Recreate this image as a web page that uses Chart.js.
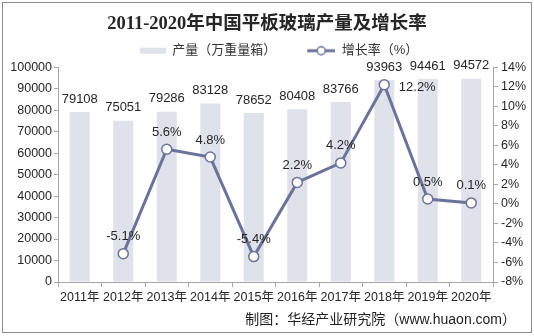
<!DOCTYPE html>
<html>
<head>
<meta charset="utf-8">
<script src="https://cdn.jsdelivr.net/npm/chart.js@4.4.0/dist/chart.umd.min.js"></script>
<style>
  html, body { margin: 0; padding: 0; background: #fff; }
  #wrap { width: 534px; height: 336px; position: relative; }
</style>
</head>
<body>
<div id="wrap"><canvas id="myChart" width="534" height="336"></canvas></div>
<script>
// data
const years = ["2011年", "2012年", "2013年", "2014年", "2015年", "2016年", "2017年", "2018年", "2019年", "2020年"];
const output = [79108, 75051, 79286, 83128, 78652, 80408, 83766, 93963, 94461, 94572];
const growth = [null, -5.1, 5.6, 4.8, -5.4, 2.2, 4.2, 12.2, 0.5, 0.1];

const barColor = "#dfe2ea";
const lineColor = "#6b7399";
const cjk = "'Liberation Sans', 'Noto Sans CJK SC', sans-serif";

// legend icons
function legendIcon(type) {
  const c = document.createElement("canvas");
  c.width = 50;
  c.height = 12;
  const g = c.getContext("2d");
  if (type === "bar") {
    g.fillStyle = barColor;
    g.fillRect(24, 3, 26, 6);
  } else {
    g.strokeStyle = lineColor;
    g.lineWidth = 3;
    g.beginPath();
    g.moveTo(22, 6);
    g.lineTo(50, 6);
    g.stroke();
    g.fillStyle = "#fff";
    g.lineWidth = 1.5;
    g.beginPath();
    g.arc(36, 6, 4, 0, Math.PI * 2);
    g.fill();
    g.stroke();
  }
  return c;
}

const labelsPlugin = {
  id: "valueLabels",
  afterDatasetsDraw(chart) {
    const ctx = chart.ctx;
    ctx.save();
    ctx.fillStyle = "#262626";
    ctx.font = "13px 'Liberation Sans', Arial, sans-serif";
    ctx.textAlign = "center";
    ctx.textBaseline = "middle";
    chart.getDatasetMeta(0).data.forEach((bar, i) => {
      ctx.fillText(String(output[i]), bar.x, bar.y - 13);
    });
    const maxG = Math.max(...growth.filter(v => v !== null));
    chart.getDatasetMeta(1).data.forEach((pt, i) => {
      if (growth[i] === null) return;
      const txt = growth[i].toFixed(1) + "%";
      if (growth[i] === maxG) {
        ctx.fillText(txt, pt.x + 33, pt.y + 3);
      } else {
        ctx.fillText(txt, pt.x, pt.y - 17);
      }
    });
    ctx.restore();
  },
  afterDraw(chart) {
    const ctx = chart.ctx;
    ctx.save();
    ctx.fillStyle = "#222";
    ctx.font = "14px " + cjk;
    ctx.textAlign = "right";
    ctx.textBaseline = "middle";
    ctx.fillText("制图：华经产业研究院（www.huaon.com）", 516, 320);
    ctx.strokeStyle = "#8c8c8c";
    ctx.lineWidth = 1;
    ctx.strokeRect(2.5, 2.5, 529, 330);
    ctx.restore();
  },
};

const ctx = document.getElementById("myChart").getContext("2d");
const myChart = new Chart(ctx, {
  data: {
    labels: years,
    datasets: [
      {
        type: "bar",
        label: "产量（万重量箱）",
        data: output,
        backgroundColor: barColor,
        barPercentage: 0.46,
        categoryPercentage: 1,
        yAxisID: "y",
        order: 2,
      },
      {
        type: "line",
        label: "增长率（%）",
        data: growth,
        borderColor: lineColor,
        borderWidth: 3,
        pointRadius: 5,
        pointBorderWidth: 1.5,
        pointBackgroundColor: "#fff",
        pointBorderColor: lineColor,
        yAxisID: "y1",
        order: 1,
      },
    ],
  },
  options: {
    responsive: false,
    animation: false,
    layout: { padding: { top: 0, left: 0, right: 0, bottom: 26 } },
    plugins: {
      tooltip: { enabled: false },
      title: {
        display: true,
        text: "2011-2020年中国平板玻璃产量及增长率",
        color: "#262626",
        font: { size: 18.5, weight: "bold", family: "'Liberation Serif', 'Noto Sans CJK SC', serif" },
        padding: { top: 13, bottom: 0 },
      },
      legend: {
        display: true,
        labels: {
          usePointStyle: true,
          pointStyleWidth: 50,
          padding: 9,
          color: "#333",
          font: { size: 13, family: cjk },
          generateLabels: () => [
            { text: "产量（万重量箱）", pointStyle: legendIcon("bar"), fillStyle: barColor, strokeStyle: barColor, lineWidth: 0, datasetIndex: 0, fontColor: "#333" },
            { text: "增长率（%）", pointStyle: legendIcon("line"), fillStyle: lineColor, strokeStyle: lineColor, lineWidth: 0, datasetIndex: 1, fontColor: "#333" },
          ],
        },
      },
    },
    scales: {
      x: {
        offset: true,
        grid: { display: true, offset: true, drawOnChartArea: false, drawTicks: true, tickLength: 5, color: "#a6a6a6" },
        border: { display: true, color: "#a6a6a6" },
        ticks: { color: "#262626", font: { size: 12.5, family: cjk }, padding: 3, maxRotation: 0, autoSkip: false },
        afterFit(scale) { scale.height = 28; },
      },
      y: {
        position: "left",
        min: 0,
        max: 100000,
        ticks: { stepSize: 10000, color: "#262626", font: { size: 12.5, family: "'Liberation Sans', Arial, sans-serif" }, padding: 2, callback: v => String(v) },
        grid: { drawOnChartArea: false, drawTicks: true, tickLength: 4, color: "#a6a6a6" },
        border: { display: true, color: "#a6a6a6" },
        afterFit(scale) { scale.width = 58; },
      },
      y1: {
        position: "right",
        min: -8,
        max: 14,
        ticks: { stepSize: 2, color: "#262626", font: { size: 12.5, family: "'Liberation Sans', Arial, sans-serif" }, padding: 3, callback: v => v + "%" },
        grid: { drawOnChartArea: false, drawTicks: true, tickLength: 5, color: "#a6a6a6" },
        border: { display: true, color: "#a6a6a6" },
        afterFit(scale) { scale.width = 41; },
      },
    },
  },
  plugins: [labelsPlugin],
});
</script>
</body>
</html>
